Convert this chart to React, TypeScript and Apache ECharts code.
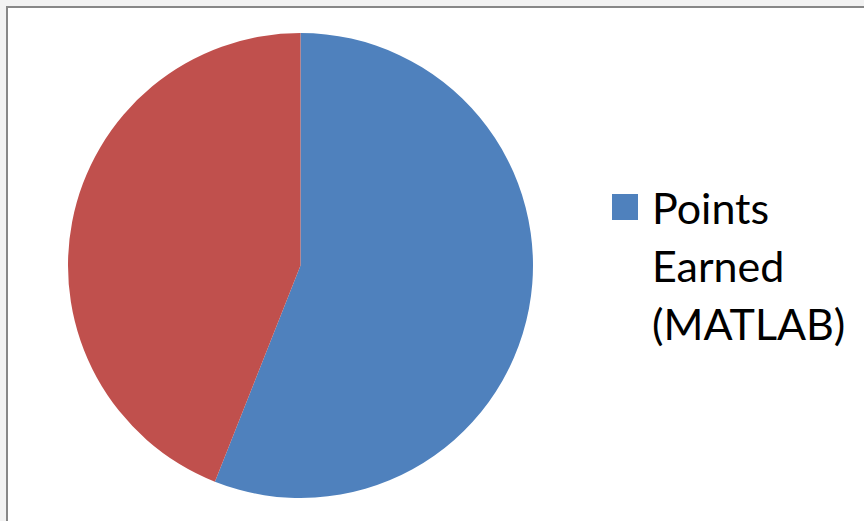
import React, { useEffect, useRef } from "react";
import * as echarts from "echarts";

const categories = ["Points Earned (MATLAB)", ""];
const values = [56, 44];
const colors = ["#4F81BD", "#C0504D"];
const legendLines = ["Points", "Earned", "(MATLAB)"];

export default function App() {
  const ref = useRef<HTMLDivElement>(null);
  useEffect(() => {
    document.body.style.margin = "0";
    const chart = echarts.init(ref.current!, undefined, { renderer: "svg" });
    chart.setOption({
      animation: false,
      backgroundColor: "#f2f2f2",
      graphic: [
        {
          type: "rect",
          z: -10,
          shape: { x: 7, y: 7, width: 870, height: 530 },
          style: { fill: "#ffffff", stroke: "#878787", lineWidth: 2 },
          silent: true,
        },
      ],
      legend: {
        data: [categories[0]],
        left: 607,
        top: 57,
        orient: "vertical",
        icon: "rect",
        itemWidth: 26,
        itemHeight: 26,
        formatter: () => "\n\n" + legendLines.join("\n"),
        textStyle: {
          fontFamily: "Lato",
          fontSize: 43,
          lineHeight: 58,
          color: "#000000",
          padding: [0, 0, 0, 9],
        },
      },
      series: [
        {
          type: "pie",
          center: [300.5, 265.5],
          radius: 232.5,
          startAngle: 90,
          clockwise: true,
          label: { show: false },
          labelLine: { show: false },
          itemStyle: { borderWidth: 0 },
          data: categories.map((name, i) => ({
            name,
            value: values[i],
            itemStyle: { color: colors[i] },
          })),
        },
      ],
    });
    return () => chart.dispose();
  }, []);
  return <div ref={ref} style={{ width: 864, height: 521 }} />;
}
